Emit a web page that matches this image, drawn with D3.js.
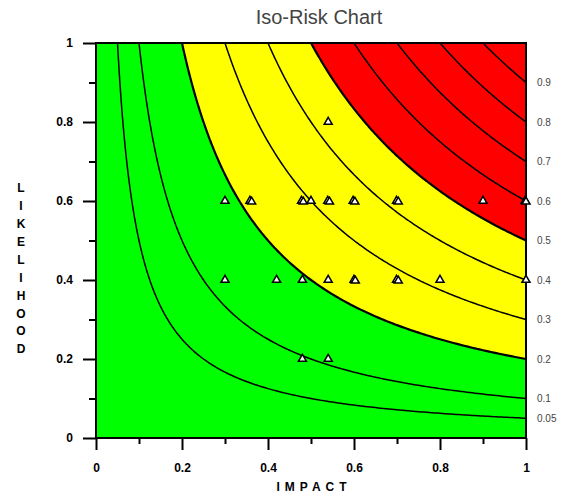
<!DOCTYPE html>
<html>
<head>
<meta charset="utf-8">
<script src="https://cdn.jsdelivr.net/npm/d3@7"></script>
<style>
  body { margin: 0; background: #fff; }
  text { font-family: Arial, "Liberation Sans", sans-serif; }
</style>
</head>
<body>
<div id="chart"></div>
<script>
// --- data ---
const chartTitle = "Iso-Risk Chart";
const xLabel = "IMPACT";
const yLabel = "LIKELIHOOD";
const majorTicks = [0, 0.2, 0.4, 0.6, 0.8, 1];
const minorTicks = [0.1, 0.3, 0.5, 0.7, 0.9];
// iso-risk levels (impact x likelihood), labelled on the right edge
const riskLevels = [0.05, 0.1, 0.2, 0.3, 0.4, 0.5, 0.6, 0.7, 0.8, 0.9];
// zone limits: green below 0.2, yellow up to 0.5, red above
const zoneLimits = [0.2, 0.5];
const zoneColors = ["#00ff00", "#ffff00", "#ff0000"];
// the plotted risks (triangles)
const impacts = [0.54,
  0.30, 0.358, 0.362, 0.478, 0.482, 0.50, 0.539, 0.543, 0.598, 0.602, 0.699, 0.703, 0.90, 0.998, 1.0,
  0.30, 0.42, 0.48, 0.54, 0.60, 0.603, 0.699, 0.703, 0.80, 1.0,
  0.48, 0.54];
const likelihoods = [0.8,
  0.6, 0.6, 0.598, 0.6, 0.598, 0.6, 0.6, 0.598, 0.6, 0.598, 0.6, 0.598, 0.6, 0.6, 0.598,
  0.4, 0.4, 0.4, 0.4, 0.4, 0.398, 0.4, 0.398, 0.4, 0.4,
  0.2, 0.2];

const width = 570;
const height = 495;
const margin = { top: 43, right: 44, bottom: 57, left: 96 };

const svg = d3.select("#chart")
    .append("svg")
    .attr("width", width)
    .attr("height", height);

const x = d3.scaleLinear()
    .domain([0, 1])
    .range([margin.left, width - margin.right]);

const y = d3.scaleLinear()
    .domain([0, 1])
    .range([height - margin.bottom, margin.top]);

// clip for the plot area
svg.append("clipPath").attr("id", "plot-clip")
  .append("rect")
    .attr("x", x(0)).attr("y", y(1))
    .attr("width", x(1) - x(0)).attr("height", y(0) - y(1));

// --- risk grid + contours ---
const n = 161, m = 161;
const grid = new Array(n * m);
for (let j = 0; j < m; j++) {
    for (let i = 0; i < n; i++) {
        grid[j * n + i] = (i / (n - 1)) * (j / (m - 1));
    }
}
// grid index k sits at contour coordinate k + 0.5
const toScreen = d3.geoTransform({
    point: function(px, py) {
        this.stream.point(x((px - 0.5) / (n - 1)), y((py - 0.5) / (m - 1)));
    }
});
const path = d3.geoPath(toScreen);

const plot = svg.append("g").attr("clip-path", "url(#plot-clip)");

// green background
plot.append("rect")
    .attr("x", x(0)).attr("y", y(1))
    .attr("width", x(1) - x(0)).attr("height", y(0) - y(1))
    .attr("fill", zoneColors[0]);

// yellow and red zones
const zoneContours = d3.contours().size([n, m]).thresholds(zoneLimits)(grid);
plot.selectAll(".zone")
    .data(zoneContours)
    .enter().append("path")
    .attr("class", "zone")
    .attr("d", path)
    .attr("fill", (d, i) => zoneColors[i + 1]);

// iso-risk lines
const lineContours = d3.contours().size([n, m]).thresholds(riskLevels)(grid);
plot.selectAll(".iso")
    .data(lineContours)
    .enter().append("path")
    .attr("class", "iso")
    .attr("d", path)
    .attr("fill", "none")
    .attr("stroke", "#000")
    .attr("stroke-width", d => zoneLimits.includes(d.value) ? 2.2 : 1.5);

// --- axes ---
const styleAxis = g => {
    g.select(".domain").remove();
    g.selectAll(".tick line").attr("stroke", "#000").attr("stroke-width", 2);
    g.selectAll("text")
        .attr("fill", "#000")
        .style("font-size", "12px")
        .style("font-weight", "bold");
};

svg.append("g")
    .attr("transform", `translate(${x(0)},0)`)
    .call(d3.axisLeft(y).tickValues(majorTicks).tickSize(13).tickPadding(10).tickFormat(d3.format("")))
    .call(styleAxis);

svg.append("g")
    .attr("transform", `translate(${x(0)},0)`)
    .call(d3.axisLeft(y).tickValues(minorTicks).tickSize(7).tickFormat(""))
    .call(styleAxis);

svg.append("g")
    .attr("transform", `translate(0,${y(0)})`)
    .call(d3.axisBottom(x).tickValues(majorTicks).tickSize(12).tickPadding(13).tickFormat(d3.format("")))
    .call(styleAxis);

svg.append("g")
    .attr("transform", `translate(0,${y(0)})`)
    .call(d3.axisBottom(x).tickValues(minorTicks).tickSize(6).tickFormat(""))
    .call(styleAxis);

// frame
svg.append("rect")
    .attr("x", x(0)).attr("y", y(1))
    .attr("width", x(1) - x(0)).attr("height", y(0) - y(1))
    .attr("fill", "none")
    .attr("stroke", "#000")
    .attr("stroke-width", 2);

// level labels on the right
svg.selectAll(".level-label")
    .data(riskLevels)
    .enter().append("text")
    .attr("class", "level-label")
    .attr("x", x(1) + 11)
    .attr("y", d => y(d))
    .attr("dy", "0.35em")
    .attr("fill", "#444")
    .style("font-size", "10px")
    .text(d => d);

// triangles
const points = impacts.map((d, i) => ({ impact: d, likelihood: likelihoods[i] }));
svg.selectAll(".risk")
    .data(points)
    .enter().append("path")
    .attr("class", "risk")
    .attr("transform", d => `translate(${x(d.impact)},${y(d.likelihood)})`)
    .attr("d", d3.symbol().type(d3.symbolTriangle).size(28))
    .attr("fill", "#fff")
    .attr("stroke", "#000")
    .attr("stroke-width", 1.5);

// title
svg.append("text")
    .attr("x", 319)
    .attr("y", 24)
    .attr("text-anchor", "middle")
    .attr("fill", "#444")
    .style("font-size", "20px")
    .text(chartTitle);

// x label
svg.append("text")
    .attr("x", x(0.5) + 3)
    .attr("y", 491)
    .attr("text-anchor", "middle")
    .style("font-size", "12px")
    .style("font-weight", "bold")
    .style("letter-spacing", "5px")
    .text(xLabel);

// y label, one letter per line
svg.append("g")
    .selectAll("text")
    .data(yLabel.split(""))
    .enter().append("text")
    .attr("x", 21)
    .attr("y", (d, i) => 188 + i * 17.9)
    .attr("dy", "0.35em")
    .attr("text-anchor", "middle")
    .style("font-size", "12px")
    .style("font-weight", "bold")
    .text(d => d);
</script>
</body>
</html>
